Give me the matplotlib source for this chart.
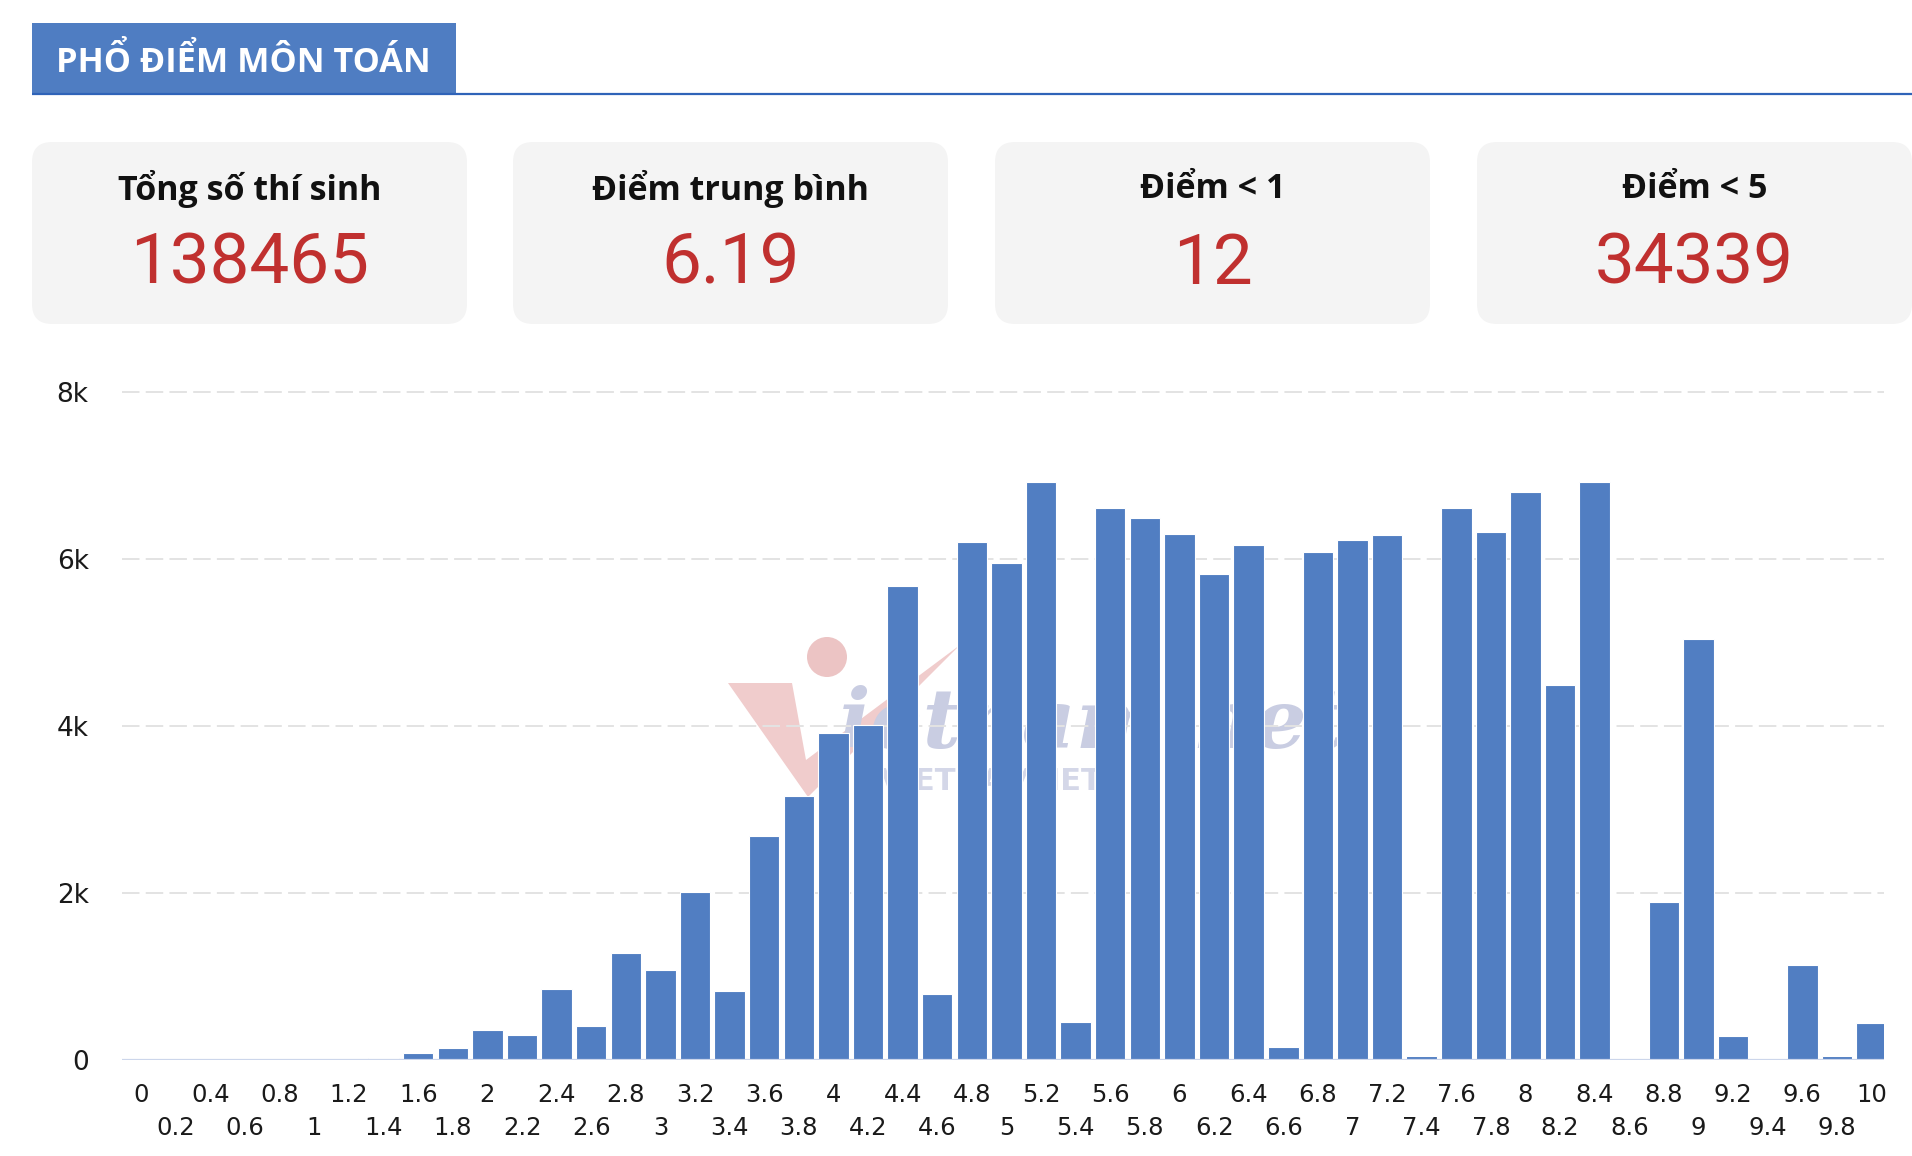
import matplotlib
matplotlib.use('Agg')
import matplotlib.pyplot as plt
from matplotlib.patches import FancyBboxPatch, Rectangle, Circle, Polygon
from matplotlib import font_manager

# ----- dữ liệu -----
title = 'PHỔ ĐIỂM MÔN TOÁN'
card_labels = ['Tổng số thí sinh', 'Điểm trung bình', 'Điểm < 1', 'Điểm < 5']
card_values = ['138465', '6.19', '12', '34339']

scores = ['0', '0.2', '0.4', '0.6', '0.8', '1', '1.2', '1.4', '1.6', '1.8',
          '2', '2.2', '2.4', '2.6', '2.8', '3', '3.2', '3.4', '3.6', '3.8',
          '4', '4.2', '4.4', '4.6', '4.8', '5', '5.2', '5.4', '5.6', '5.8',
          '6', '6.2', '6.4', '6.6', '6.8', '7', '7.2', '7.4', '7.6', '7.8',
          '8', '8.2', '8.4', '8.6', '8.8', '9', '9.2', '9.4', '9.6', '9.8', '10']
counts = [0, 1, 2, 4, 5, 8, 12, 20, 80, 140,
          355, 300, 850, 410, 1285, 1075, 2010, 825, 2680, 3160,
          3920, 4010, 5675, 790, 6200, 5950, 6920, 450, 6610, 6495,
          6300, 5820, 6170, 160, 6085, 6230, 6290, 45, 6610, 6320,
          6800, 4490, 6920, 0, 1890, 5045, 290, 0, 1140, 45, 440]

y_ticks = [0, 2000, 4000, 6000, 8000]
y_tick_labels = ['0', '2k', '4k', '6k', '8k']

# ----- font -----
installed = {f.name for f in font_manager.fontManager.ttflist}
num_font = 'Liberation Sans Narrow' if 'Liberation Sans Narrow' in installed else 'Roboto'
head_font = 'Open Sans'

W, H = 1912, 1156
fig = plt.figure(figsize=(W / 100, H / 100), dpi=100)
fig.patch.set_facecolor('white')

# nền: trục phủ cả hình, toạ độ = pixel
bg = fig.add_axes([0, 0, 1, 1], zorder=0)
bg.set_xlim(0, W)
bg.set_ylim(H, 0)
bg.axis('off')

# tiêu đề
bg.add_patch(Rectangle((32, 23), 424, 71, facecolor='#4f7dc2', edgecolor='none'))
bg.plot([32, W], [94, 94], color='#2f63b8', lw=1.6, solid_capstyle='butt')
bg.text(56, 62, title, color='white', fontsize=24.7, fontweight='bold',
        family=head_font, ha='left', va='center')

# các thẻ
card_x = [32, 513, 995, 1477]
card_w = 435
for cx, lab, val in zip(card_x, card_labels, card_values):
    bg.add_patch(FancyBboxPatch((cx, 142), card_w, 182,
                                boxstyle='round,pad=0,rounding_size=20',
                                facecolor='#f4f4f4', edgecolor='none'))
    bg.text(cx + card_w / 2, 189, lab, fontsize=24.5, fontweight='bold',
            family=head_font, color='#111111', ha='center', va='center')
    bg.text(cx + card_w / 2, 264, val, fontsize=51, family=num_font,
            color='#c0302f', ha='center', va='center')

# watermark mờ
bg.add_patch(Circle((827, 657), 20, facecolor='#ecc4c4', edgecolor='none'))
bg.add_patch(Polygon([(728, 683), (792, 683), (806, 760), (960, 645), (808, 797)],
                     closed=True, facecolor='#f0cccc', edgecolor='none'))
bg.text(838, 748, 'ietnam.net', fontsize=60, family='DejaVu Serif',
        fontweight='bold', style='italic', color='#c9cde2', ha='left', va='baseline')
bg.text(880, 790, 'VIETNAMNET', fontsize=22, family='DejaVu Sans',
        fontweight='bold', color='#d4d7e8', ha='left', va='baseline')

# ----- biểu đồ cột -----
left, right, top, bottom = 122, 1884, 392, 1060
ax = fig.add_axes([left / W, 1 - bottom / H, (right - left) / W, (bottom - top) / H], zorder=1)
ax.patch.set_alpha(0)

x = list(range(len(scores)))
ax.bar(x, counts, width=0.88, color='#517ec2', edgecolor='white', linewidth=0.8, zorder=3)

ax.set_xlim(-0.56, 50.36)
ax.set_ylim(0, 8000)
for s in ax.spines.values():
    s.set_visible(False)

for yv in y_ticks[1:]:
    ax.axhline(yv, color='#e3e3e3', lw=1.4, linestyle=(0, (9, 3.2)), zorder=1, clip_on=False)
ax.axhline(0, color='#ccd6eb', lw=1.6, zorder=4)

ax.set_yticks(y_ticks)
ax.set_yticklabels(y_tick_labels)
ax.tick_params(axis='y', length=0, pad=24, labelsize=19, labelcolor='#1a1a1a')

ax.set_xticks([])
for i, lab in enumerate(scores):
    off = -25 if i % 2 == 0 else -49
    ax.annotate(lab, xy=(i, 0), xycoords=('data', 'axes fraction'),
                xytext=(0, off), textcoords='offset points',
                ha='center', va='center', fontsize=17.5, color='#1a1a1a')

fig.savefig('out.png', dpi=100, facecolor='white')
